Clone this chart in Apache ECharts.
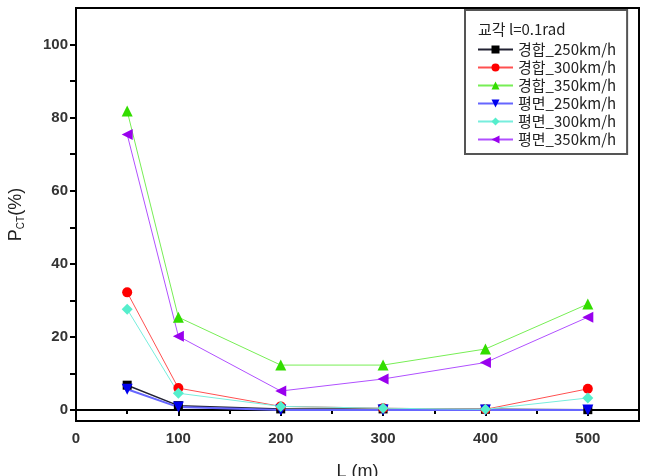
<!DOCTYPE html>
<html>
<head>
<meta charset="utf-8">
<script src="https://cdn.jsdelivr.net/npm/echarts@6/dist/echarts.min.js"></script>
<style>
  html, body { margin: 0; padding: 0; background: #fff; }
  #chart { width: 649px; height: 476px; }
</style>
</head>
<body>
<div id="chart"></div>
<script>
const distances = [50, 100, 200, 300, 400, 500]
const seriesNames = ['경합_250km/h', '경합_300km/h', '경합_350km/h', '평면_250km/h', '평면_300km/h', '평면_350km/h']
const mixed250 = [6.8, 1.2, 0.3, 0.3, 0.2, 0.1]
const mixed300 = [32.2, 6.0, 1.0, 0.5, 0.2, 5.8]
const mixed350 = [81.8, 25.4, 12.3, 12.3, 16.7, 29.0]
const flat250 = [5.7, 0.8, 0.0, 0.0, 0.0, 0.0]
const flat300 = [27.6, 4.6, 1.0, 0.5, 0.2, 3.3]
const flat350 = [75.4, 20.2, 5.2, 8.5, 13.0, 25.4]
const xLabels = [0, 100, 200, 300, 400, 500]
const yLabels = [0, 20, 40, 60, 80, 100]
const yTicks = [0, 10, 20, 30, 40, 50, 60, 70, 80, 90, 100]

const values = [mixed250, mixed300, mixed350, flat250, flat300, flat350]
const markers = [
  { symbol: 'rect', size: 9, rotate: 0, color: '#000000', line: '#222233', width: 1.5 },
  { symbol: 'circle', size: 10, rotate: 0, color: '#ff0000', line: '#ff5050', width: 1 },
  { symbol: 'triangle', size: 11, rotate: 0, color: '#33dd00', line: '#77ee55', width: 1 },
  { symbol: 'triangle', size: 11, rotate: 180, color: '#0000ee', line: '#6666ff', width: 2 },
  { symbol: 'diamond', size: 11, rotate: 0, color: '#55eecc', line: '#77eedd', width: 1 },
  { symbol: 'triangle', size: 11, rotate: 90, color: '#9900ee', line: '#b050ff', width: 1 }
]

const font = 'Liberation Sans, Arial, sans-serif'
const krFont = 'Noto Sans CJK KR, sans-serif'

const chart = echarts.init(document.getElementById('chart'))

const option = {
  animation: false,
  title: {
    text: '교각 l=0.1rad',
    left: 478,
    top: 22,
    padding: 0,
    textStyle: { fontFamily: krFont, fontSize: 15, fontWeight: 'normal', color: '#222' }
  },
  legend: {
    orient: 'vertical',
    left: 465,
    top: 10,
    padding: [32, 11, 7, 12],
    itemGap: 3,
    itemWidth: 35,
    itemHeight: 10,
    borderColor: '#555',
    borderWidth: 2,
    data: seriesNames,
    textStyle: { fontFamily: krFont, fontSize: 15, color: '#222', padding: [0, 0, 0, 0] }
  },
  grid: {
    left: 76,
    right: 10,
    top: 8,
    bottom: 55,
    outerBoundsMode: 'none',
    containLabel: false,
    show: true,
    borderColor: '#000',
    borderWidth: 2
  },
  xAxis: {
    type: 'value',
    min: 0,
    max: 550,
    interval: 100,
    name: 'L (m)',
    nameLocation: 'middle',
    nameGap: 42,
    nameTextStyle: { fontFamily: font, fontSize: 18, color: '#222' },
    axisLine: { lineStyle: { color: '#000', width: 2 } },
    axisTick: { show: true, length: 6, lineStyle: { color: '#000', width: 2 } },
    minorTick: { show: true, splitNumber: 2, length: 4, lineStyle: { color: '#000', width: 2 } },
    axisLabel: {
      customValues: xLabels,
      margin: 10,
      fontFamily: font,
      fontSize: 15,
      fontWeight: 'bold',
      color: '#333'
    },
    splitLine: { show: false }
  },
  yAxis: {
    type: 'value',
    min: -3,
    max: 110,
    name: 'P{sub|CT}(%)',
    nameLocation: 'middle',
    nameGap: 50,
    nameRotate: 90,
    nameTextStyle: {
      fontFamily: font,
      fontSize: 18,
      color: '#222',
      rich: {
        sub: { fontFamily: font, fontSize: 10, color: '#222', verticalAlign: 'bottom', padding: [10, 0, 0, 0] }
      }
    },
    axisLine: { lineStyle: { color: '#000', width: 2 } },
    axisTick: { show: true, customValues: yTicks, length: 6, lineStyle: { color: '#000', width: 2 } },
    axisLabel: {
      customValues: yLabels,
      margin: 8,
      fontFamily: font,
      fontSize: 15,
      fontWeight: 'bold',
      color: '#333'
    },
    splitLine: { show: false }
  },
  series: seriesNames.map((name, i) => ({
    name: name,
    type: 'line',
    data: distances.map((d, j) => [d, values[i][j]]),
    symbol: markers[i].symbol,
    symbolSize: markers[i].size,
    symbolRotate: markers[i].rotate,
    itemStyle: { color: markers[i].color },
    lineStyle: { color: markers[i].line, width: markers[i].width }
  }))
}

chart.setOption(option)

window.addEventListener('resize', () => {
  chart.resize()
})
</script>
</body>
</html>
